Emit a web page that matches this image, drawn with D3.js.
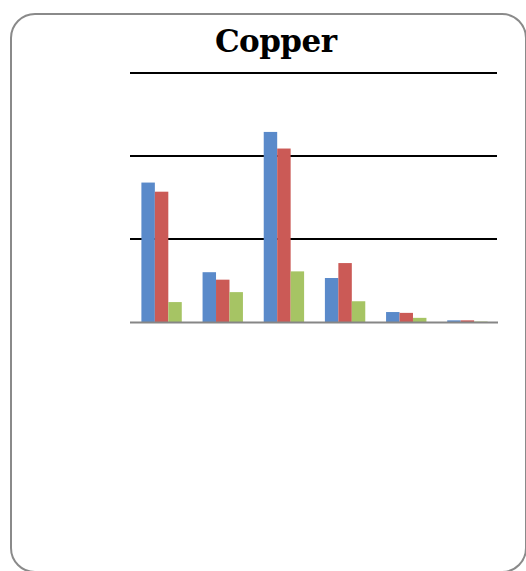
<!DOCTYPE html>
<html>
<head>
<meta charset="utf-8">
<script src="https://cdn.jsdelivr.net/npm/d3@7"></script>
<style>
  html, body { margin: 0; padding: 0; background: #fff; }
  svg { display: block; }
</style>
</head>
<body>
<script>
// Copper concentrations per sampling site, three series
const categories = ["Site 1", "Site 2", "Site 3", "Site 4", "Site 5", "Site 6"];
const seriesNames = ["Series 1", "Series 2", "Series 3"];
const series1 = [1.68, 0.60, 2.29, 0.53, 0.12, 0.02];
const series2 = [1.57, 0.51, 2.09, 0.71, 0.11, 0.02];
const series3 = [0.24, 0.36, 0.61, 0.25, 0.05, 0.005];
const yTicks = [1, 2, 3];
const colors = ["#5A8ACA", "#CB5A56", "#A6C464"];

const W = 526, H = 571;
const svg = d3.select("body").append("svg").attr("width", W).attr("height", H);

// rounded frame
svg.append("rect")
  .attr("x", 11).attr("y", 14)
  .attr("width", 515).attr("height", 558)
  .attr("rx", 24).attr("ry", 24)
  .attr("fill", "#fff")
  .attr("stroke", "#8a8a8a")
  .attr("stroke-width", 2);

// title
svg.append("text")
  .attr("x", 276).attr("y", 52)
  .attr("text-anchor", "middle")
  .attr("font-family", "'DejaVu Serif', serif")
  .attr("font-weight", "bold")
  .attr("font-size", 31)
  .attr("textLength", 122)
  .attr("fill", "#000")
  .text("Copper");

const x0 = d3.scaleBand().domain(categories).range([131, 498])
  .paddingInner(0.34).paddingOuter(0.17);
const x1 = d3.scaleBand().domain(seriesNames).range([0, x0.bandwidth()]);
const y = d3.scaleLinear().domain([0, 3]).range([322, 73]);

// horizontal gridlines
svg.append("g").selectAll("line").data(yTicks).join("line")
  .attr("x1", 130).attr("x2", 497)
  .attr("y1", d => y(d)).attr("y2", d => y(d))
  .attr("stroke", "#000").attr("stroke-width", 2);

// bars
const data = [series1, series2, series3];
const groups = svg.append("g").selectAll("g").data(categories).join("g")
  .attr("transform", d => `translate(${x0(d)},0)`);
groups.selectAll("rect")
  .data((c, i) => seriesNames.map((s, k) => ({ s, v: data[k][i], k })))
  .join("rect")
  .attr("x", d => x1(d.s))
  .attr("width", x1.bandwidth())
  .attr("y", d => y(d.v))
  .attr("height", d => y(0) - y(d.v))
  .attr("fill", d => colors[d.k]);

// category axis line
svg.append("line")
  .attr("x1", 130).attr("x2", 498)
  .attr("y1", y(0) + 0.5).attr("y2", y(0) + 0.5)
  .attr("stroke", "#868686").attr("stroke-width", 2);
</script>
</body>
</html>
